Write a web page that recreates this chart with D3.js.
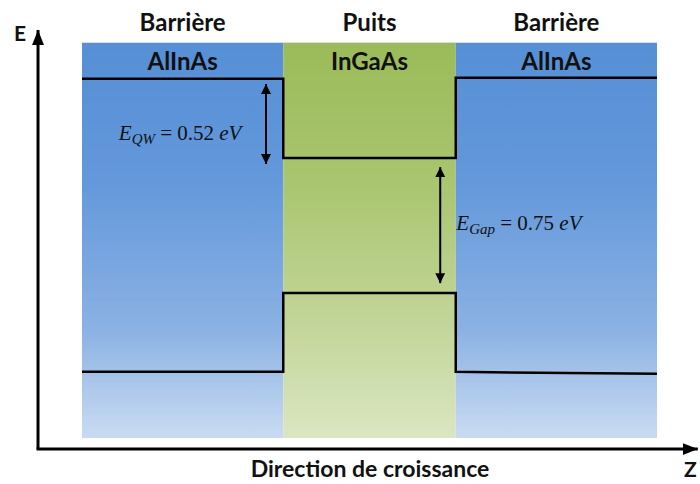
<!DOCTYPE html>
<html>
<head>
<meta charset="utf-8">
<script src="https://cdn.jsdelivr.net/npm/d3@7"></script>
<style>
  body { margin: 0; background: #fff; }
  .lbl { font-family: Lato, "Open Sans", sans-serif; font-weight: 700; fill: #111; }
  .math { font-family: "Liberation Serif", "DejaVu Serif", serif; fill: #111; }
</style>
</head>
<body>
<svg id="chart" width="700" height="484"></svg>
<script>
// layers along the growth direction (z, arbitrary units)
const layers = ['Barrière', 'Puits', 'Barrière'];
const materials = ['AlInAs', 'InGaAs', 'AlInAs'];
const layerStart = [0, 35, 65];
const layerEnd = [35, 65, 100];
const layerKind = ['barrier', 'well', 'barrier'];

// band edges (energy, a.u.) at the start and end of each layer
const cbStart = [90.7, 70.7, 91.0];
const cbEnd = [90.7, 70.7, 91.0];
const vbStart = [16.7, 36.6, 16.7];
const vbEnd = [16.7, 36.6, 16.2];

// energy annotations
const gaps = [
  { z: 32, from: 89.4, to: 69.2, name: 'QW', value: '0.52', tx: 6.4, ty: 75.2 },
  { z: 62.3, from: 68.4, to: 39.1, name: 'Gap', value: '0.75', tx: 65.1, ty: 52.5 },
];

const width = 700;
const height = 484;

const x = d3.scaleLinear().domain([0, 100]).range([82, 657]);
const y = d3.scaleLinear().domain([0, 100]).range([438, 42]);

const svg = d3.select('#chart');
const defs = svg.append('defs');

const grads = {
  barrier: ['#568fd5', '#6398db', '#8ab1e3', '#c9dbf2'],
  well: ['#9bbb59', '#a9c56f', '#c3d69a', '#dae6c2'],
};
const offsets = [0, 0.35, 0.72, 1];
Object.entries(grads).forEach(([k, cols]) => {
  const g = defs.append('linearGradient')
    .attr('id', `g-${k}`)
    .attr('x1', 0).attr('y1', 0).attr('x2', 0).attr('y2', 1);
  g.selectAll('stop')
    .data(cols)
    .enter()
    .append('stop')
    .attr('offset', (d, i) => offsets[i])
    .attr('stop-color', (d) => d);
});

const marker = (id, path) => defs.append('marker')
  .attr('id', id)
  .attr('viewBox', '0 0 10 10')
  .attr('refX', 10).attr('refY', 5)
  .attr('markerWidth', 5).attr('markerHeight', 5)
  .attr('markerUnits', 'strokeWidth')
  .attr('orient', 'auto-start-reverse')
  .append('path')
  .attr('d', path)
  .attr('fill', '#000');
marker('arr', 'M0,0 L10,5 L0,10 z');
marker('arrAxis', 'M0,1 L10,5 L0,9 z');

// layer blocks
svg.append('g')
  .selectAll('rect')
  .data(layers)
  .enter()
  .append('rect')
  .attr('x', (d, i) => x(layerStart[i]))
  .attr('y', y(100))
  .attr('width', (d, i) => x(layerEnd[i]) - x(layerStart[i]))
  .attr('height', y(0) - y(100))
  .attr('fill', (d, i) => `url(#g-${layerKind[i]})`);

// thin light edge on top
svg.append('line')
  .attr('x1', x(0)).attr('x2', x(100))
  .attr('y1', y(100) + 0.5).attr('y2', y(100) + 0.5)
  .attr('stroke', '#d8dde4').attr('stroke-width', 1);

// layer titles and materials
svg.append('g')
  .selectAll('text')
  .data(layers)
  .enter()
  .append('text')
  .attr('class', 'lbl')
  .attr('x', (d, i) => (x(layerStart[i]) + x(layerEnd[i])) / 2)
  .attr('y', 31)
  .attr('text-anchor', 'middle')
  .attr('font-size', 24)
  .text((d) => d);

svg.append('g')
  .selectAll('text')
  .data(materials)
  .enter()
  .append('text')
  .attr('class', 'lbl')
  .attr('x', (d, i) => (x(layerStart[i]) + x(layerEnd[i])) / 2)
  .attr('y', 70)
  .attr('text-anchor', 'middle')
  .attr('font-size', 24)
  .text((d) => d);

// band edge profiles
const profile = (start, end) => {
  const pts = [];
  layers.forEach((d, i) => {
    pts.push([layerStart[i], start[i]]);
    pts.push([layerEnd[i], end[i]]);
  });
  return pts;
};
const line = d3.line().x((d) => x(d[0])).y((d) => y(d[1]));

[profile(cbStart, cbEnd), profile(vbStart, vbEnd)].forEach((pts) => {
  svg.append('path')
    .attr('d', line(pts))
    .attr('fill', 'none')
    .attr('stroke', '#000')
    .attr('stroke-width', 2.5)
    .attr('stroke-linejoin', 'miter');
});

// energy arrows
svg.append('g')
  .selectAll('line')
  .data(gaps)
  .enter()
  .append('line')
  .attr('x1', (d) => x(d.z)).attr('x2', (d) => x(d.z))
  .attr('y1', (d) => y(d.from)).attr('y2', (d) => y(d.to))
  .attr('stroke', '#000')
  .attr('stroke-width', 2)
  .attr('marker-start', 'url(#arr)')
  .attr('marker-end', 'url(#arr)');

const lab = svg.append('g')
  .selectAll('text')
  .data(gaps)
  .enter()
  .append('text')
  .attr('class', 'math')
  .attr('x', (d) => x(d.tx))
  .attr('y', (d) => y(d.ty))
  .attr('font-size', 21);
lab.append('tspan').attr('font-style', 'italic').text('E');
lab.append('tspan').attr('font-style', 'italic').attr('font-size', 15).attr('dy', 4).text((d) => d.name);
lab.append('tspan').attr('dy', -4).text((d) => ` = ${d.value} `);
lab.append('tspan').attr('font-style', 'italic').text('eV');

// axes (energy vs growth direction)
const x0 = x(-7.65);
const y0 = y(-2.8);
svg.append('line')
  .attr('x1', x0).attr('y1', y0)
  .attr('x2', x0).attr('y2', y(103))
  .attr('stroke', '#000').attr('stroke-width', 3)
  .attr('marker-end', 'url(#arrAxis)');
svg.append('line')
  .attr('x1', x0 - 1.5).attr('y1', y0)
  .attr('x2', x(107.1)).attr('y2', y0)
  .attr('stroke', '#000').attr('stroke-width', 3)
  .attr('marker-end', 'url(#arrAxis)');

svg.append('text').attr('class', 'lbl')
  .attr('x', 14).attr('y', 41).attr('font-size', 21).text('E');
svg.append('text').attr('class', 'lbl')
  .attr('x', 684).attr('y', 477).attr('font-size', 21).text('Z');
svg.append('text').attr('class', 'lbl')
  .attr('x', 370).attr('y', 477).attr('text-anchor', 'middle')
  .attr('font-size', 23).text('Direction de croissance');
</script>
</body>
</html>
